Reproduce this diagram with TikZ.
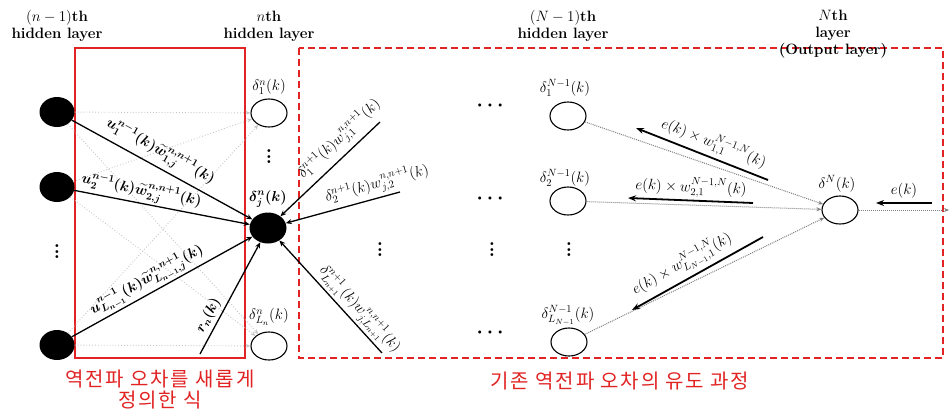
\RequirePackage{fix-cm}
\documentclass[tikz,border=0pt]{standalone}
\usepackage{amsmath,bm}
\usepackage{fontspec}
\newfontfamily\kor[LetterSpace=9]{Noto Sans CJK KR}
\usetikzlibrary{shapes.geometric,arrows.meta}
\definecolor{rd}{RGB}{225,35,35}
\tikzset{
 blk/.style={ellipse, fill=black, minimum width=35pt, minimum height=30pt, inner sep=0pt},
 wht/.style={ellipse, draw=black, line width=1.1pt, minimum width=36pt, minimum height=28pt, inner sep=0pt},
 hdr/.style={font=\fontsize{15}{17}\selectfont\bfseries, align=center, inner sep=0pt},
 lbl/.style={font=\fontsize{15}{17}\selectfont, inner sep=1pt},
 blbl/.style={font=\fontsize{14.5}{16}\selectfont\boldmath, inner sep=1pt},
 dotsh/.style={font=\fontsize{20}{20}\selectfont\boldmath, inner sep=0pt},
 dotsv/.style={font=\fontsize{20}{5.5}\selectfont\bfseries, align=center, inner sep=0pt},
 kr/.style={font=\kor\fontsize{20}{21}\selectfont, text=rd, align=center, inner sep=0pt},
 redbox/.style={draw=rd, line width=1.4pt},
 reddash/.style={draw=rd, line width=1.4pt, dash pattern=on 7pt off 4pt},
 conn/.style={line width=1.3pt, -{Stealth[length=6pt,width=5pt]}},
 thk/.style={line width=1.8pt, -{Stealth[length=8pt,width=6pt]}},
 fwd/.style={draw=gray, line width=1pt, densely dotted, -{Stealth[length=5pt,width=4pt]}},
 fwdl/.style={draw=gray!45, line width=0.9pt, dotted, -{Stealth[length=5pt,width=4pt]}},
}
\newcommand{\vdd}{.\\.\\.}
\begin{document}
\begin{tikzpicture}[x=1pt,y=-1pt]
\useasboundingbox (0,0) rectangle (950,410);
% boxes
\draw[redbox] (75,48) rectangle (245,358);
\draw[reddash] (299,48) rectangle (943,358);
% headers
\node[hdr] (h1) at (57,26) {$(n-1)$th\\hidden layer};
\node[hdr] (h2) at (269,26) {$n$th\\hidden layer};
\node[hdr] (h3) at (563,26) {$(N-1)$th\\hidden layer};
\node[hdr] (h4) at (833,34) {$N$th\\layer\\(Output layer)};
% (n-1)th layer
\node[blk] (a1) at (57,112) {};
\node[blk] (a2) at (57,187) {};
\node[blk] (aL) at (57,345) {};
\node[dotsv] (av) at (57,252) {\vdd};
% nth layer
\node[wht] (b1) at (269,113) {};
\node[blk, minimum width=37pt, minimum height=31pt] (bj) at (268,228) {};
\node[wht] (bL) at (269,346) {};
\node[lbl] (b1l) at (269,87) {$\delta_1^n(k)$};
\node[blbl] (bjl) at (268,199) {$\delta_j^n(k)$};
\node[lbl] (bLl) at (269,317) {$\delta_{L_n}^n(k)$};
\node[dotsv] (bv) at (269,157) {\vdd};
% grey forward connections
\foreach \s in {a1,a2,aL}{
  \draw[fwdl] (\s) -- (b1);
  \draw[fwdl] (\s) -- (bL);
}
% left solid connections
\draw[conn] (a1) -- (bj) node[blbl, pos=0.45, above=4pt, sloped] {$u_1^{n-1}(k)\widetilde{w}_{1,j}^{n,n+1}(k)$};
\draw[conn] (a2) -- (bj) node[blbl, pos=0.37, above=1pt, sloped] {$u_2^{n-1}(k)\widetilde{w}_{2,j}^{n,n+1}(k)$};
\draw[conn] (aL) -- (bj) node[blbl, pos=0.45, above=1pt, sloped] {$u_{L_{n-1}}^{n-1}(k)\widetilde{w}_{L_{n-1},j}^{n,n+1}(k)$};
\coordinate (tr) at (200,354);
\draw[conn] (tr) -- (bj) node[blbl, pos=0.3, above=2pt, sloped] {$r_n(k)$};
% right incoming connections
\coordinate (t1) at (380,122);
\coordinate (t2) at (400,192);
\coordinate (t3) at (382,353);
\draw[conn] (t1) -- (bj) node[lbl, pos=0.3, above=4pt, sloped] {$\delta_1^{n+1}(k)w_{j,1}^{n,n+1}(k)$};
\draw[conn] (t2) -- (bj) node[lbl, pos=0.17, above=2pt, sloped] {$\delta_2^{n+1}(k)w_{j,2}^{n,n+1}(k)$};
\draw[conn] (t3) -- (bj) node[lbl, pos=0.31, above=1pt, sloped] {$\delta_{L_{n+1}}^{n+1}(k)w_{j,L_{n+1}}^{n,n+1}(k)$};
% dots in between
\node[dotsh] (d1) at (492,106) {$\cdots$};
\node[dotsh] (d2) at (492,199) {$\cdots$};
\node[dotsv] (d3) at (492,250) {\vdd};
\node[dotsh] (d4) at (492,333) {$\cdots$};
\node[dotsv] (d5) at (380,250) {\vdd};
% (N-1)th layer
\node[wht] (m1) at (568,116) {};
\node[wht] (m2) at (568,201) {};
\node[wht] (mL) at (569,342) {};
\node[dotsv] (mv) at (569,250) {\vdd};
\node[lbl] (m1l) at (565,88) {$\delta_1^{N-1}(k)$};
\node[lbl] (m2l) at (565,178) {$\delta_2^{N-1}(k)$};
\node[lbl] (mLl) at (568,315) {$\delta_{L_{N-1}}^{N-1}(k)$};
% Nth layer
\node[wht] (dN) at (840,210) {};
\node[lbl] (dNl) at (837,184) {$\delta^N(k)$};
\coordinate (outE) at (949,210);
\draw[fwd] (m1) -- (dN);
\draw[fwd] (m2) -- (dN);
\draw[fwd] (mL) -- (dN);
\draw[fwd] (dN) -- (outE);
% error arrows
\coordinate (e1) at (932,203);
\coordinate (e2) at (876,203);
\draw[thk] (e1) -- (e2) node[lbl, midway, above=3pt] {$e(k)$};
\coordinate (r1s) at (768,180);
\coordinate (r1e) at (636,128);
\coordinate (r2s) at (753,203);
\coordinate (r2e) at (628,198);
\coordinate (r3s) at (763,237);
\coordinate (r3e) at (632,310);
\draw[thk] (r1s) -- (r1e) node[lbl, pos=0.45, above=2pt, sloped] {$e(k)\times w_{1,1}^{N-1,N}(k)$};
\draw[thk] (r2s) -- (r2e) node[lbl, pos=0.5, above=1pt, sloped] {$e(k)\times w_{2,1}^{N-1,N}(k)$};
\draw[thk] (r3s) -- (r3e) node[lbl, pos=0.56, above=3pt, sloped] {$e(k)\times w_{L_{N-1},1}^{N-1,N}(k)$};
% Korean captions
\node[kr] (k1) at (160,390) {역전파 오차를 새롭게\\정의한 식};
\node[kr] (k2) at (620,381) {기존 역전파 오차의 유도 과정};
\end{tikzpicture}
\end{document}
